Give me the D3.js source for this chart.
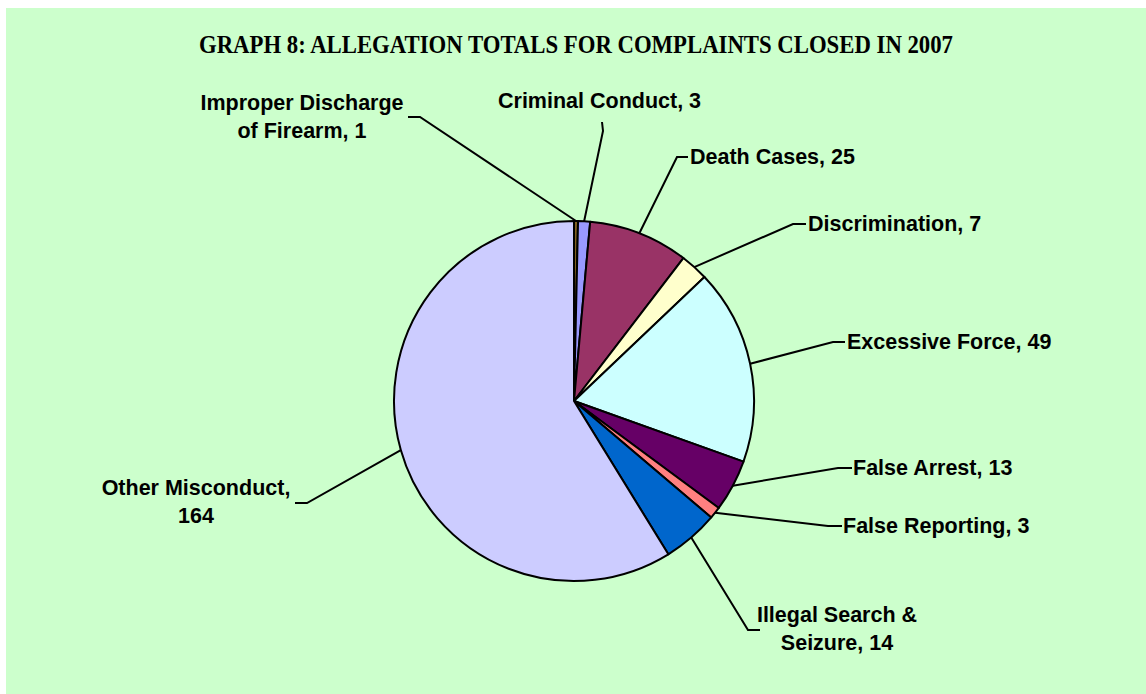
<!DOCTYPE html>
<html>
<head>
<meta charset="utf-8">
<script src="https://cdn.jsdelivr.net/npm/d3@7"></script>
<style>
  body { margin: 0; background: #fff; }
  .lbl { font-family: "Liberation Sans", Arial, sans-serif; font-weight: bold; font-size: 21.5px; fill: #000; }
  .title { font-family: "Liberation Serif", "Times New Roman", serif; font-weight: bold; font-size: 26px; fill: #000; }
</style>
</head>
<body>
<div class="chart"></div>
<script>
// DATA ------------------------------
let categories = ["Improper Discharge of Firearm", "Criminal Conduct", "Death Cases", "Discrimination",
  "Excessive Force", "False Arrest", "False Reporting", "Illegal Search & Seizure", "Other Misconduct"];
let values = [1, 3, 25, 7, 49, 13, 3, 14, 164];
let colors = ["#806020", "#9999FF", "#993366", "#FFFFCC", "#CCFFFF", "#660066", "#FF8080", "#0066CC", "#CCCCFF"];

// label text lines (as printed in the chart)
let labelLines = [
  ["Improper Discharge", "of Firearm, 1"],
  ["Criminal Conduct, 3"],
  ["Death Cases, 25"],
  ["Discrimination, 7"],
  ["Excessive Force, 49"],
  ["False Arrest, 13"],
  ["False Reporting, 3"],
  ["Illegal Search &", "Seizure, 14"],
  ["Other Misconduct,", "164"]
];

// label layout: text x, first baseline y, anchor, leader attach point and elbow
let labelLayout = [
  { x: 302, y: 110, anchor: "middle", a: [408, 117], e: [420, 117] },
  { x: 498, y: 108, anchor: "start", a: [602, 122], e: [603, 131] },
  { x: 690, y: 164, anchor: "start", a: [688, 157], e: [677, 157] },
  { x: 808, y: 231, anchor: "start", a: [806, 224], e: [793, 224] },
  { x: 847, y: 349, anchor: "start", a: [845, 342], e: [833, 342] },
  { x: 853, y: 475, anchor: "start", a: [852, 468], e: [838, 468] },
  { x: 843, y: 533, anchor: "start", a: [842, 526], e: [828, 526] },
  { x: 837, y: 622, anchor: "middle", a: [760, 630], e: [748, 630] },
  { x: 196, y: 495, anchor: "middle", a: [295, 503], e: [307, 503] }
];

// CHART INIT ------------------------------
let width = 1146, height = 694;
let cx = 574, cy = 401, radius = 180;

let svg = d3.select(".chart")
  .append("svg")
  .attr("width", width)
  .attr("height", height)
  .style("display", "block");

// plot area background
svg.append("rect")
  .attr("x", 6).attr("y", 8)
  .attr("width", width - 6).attr("height", height - 8)
  .attr("fill", "#CCFFCC");

// title is a bit condensed in the original
svg.append("text")
  .attr("class", "title")
  .attr("x", 576)
  .attr("y", 53)
  .attr("text-anchor", "middle")
  .attr("textLength", 754)
  .attr("lengthAdjust", "spacingAndGlyphs")
  .text("GRAPH 8: ALLEGATION TOTALS FOR COMPLAINTS CLOSED IN 2007");

let data = categories.map((c, i) => ({ name: c, value: values[i], color: colors[i], lines: labelLines[i], layout: labelLayout[i] }));

let pie = d3.pie().sort(null).value(d => d.value);
let arc = d3.arc().innerRadius(0).outerRadius(radius);

let g = svg.append("g").attr("transform", "translate(" + cx + "," + cy + ")");

let arcs = pie(data);

g.selectAll(".slice")
  .data(arcs)
  .enter()
  .append("path")
  .attr("class", "slice")
  .attr("d", arc)
  .attr("fill", d => d.data.color)
  .attr("stroke", "#000")
  .attr("stroke-width", 2)
  .attr("stroke-linejoin", "round");

// leader lines from slice edge midpoint
svg.selectAll(".leader")
  .data(arcs)
  .enter()
  .append("polyline")
  .attr("class", "leader")
  .attr("fill", "none")
  .attr("stroke", "#000")
  .attr("stroke-width", 2)
  .attr("points", function(d) {
    let mid = (d.startAngle + d.endAngle) / 2;
    let px = cx + radius * Math.sin(mid);
    let py = cy - radius * Math.cos(mid);
    let L = d.data.layout;
    return [L.a, L.e, [px, py]].map(p => p.join(",")).join(" ");
  });

// labels
let labels = svg.selectAll(".lbl")
  .data(arcs)
  .enter()
  .append("text")
  .attr("class", "lbl")
  .attr("text-anchor", d => d.data.layout.anchor);

labels.selectAll("tspan")
  .data(d => d.data.lines.map(t => ({ t: t, L: d.data.layout })))
  .enter()
  .append("tspan")
  .attr("x", d => d.L.x)
  .attr("y", (d, i) => d.L.y + i * 28)
  .text(d => d.t);
</script>
</body>
</html>
